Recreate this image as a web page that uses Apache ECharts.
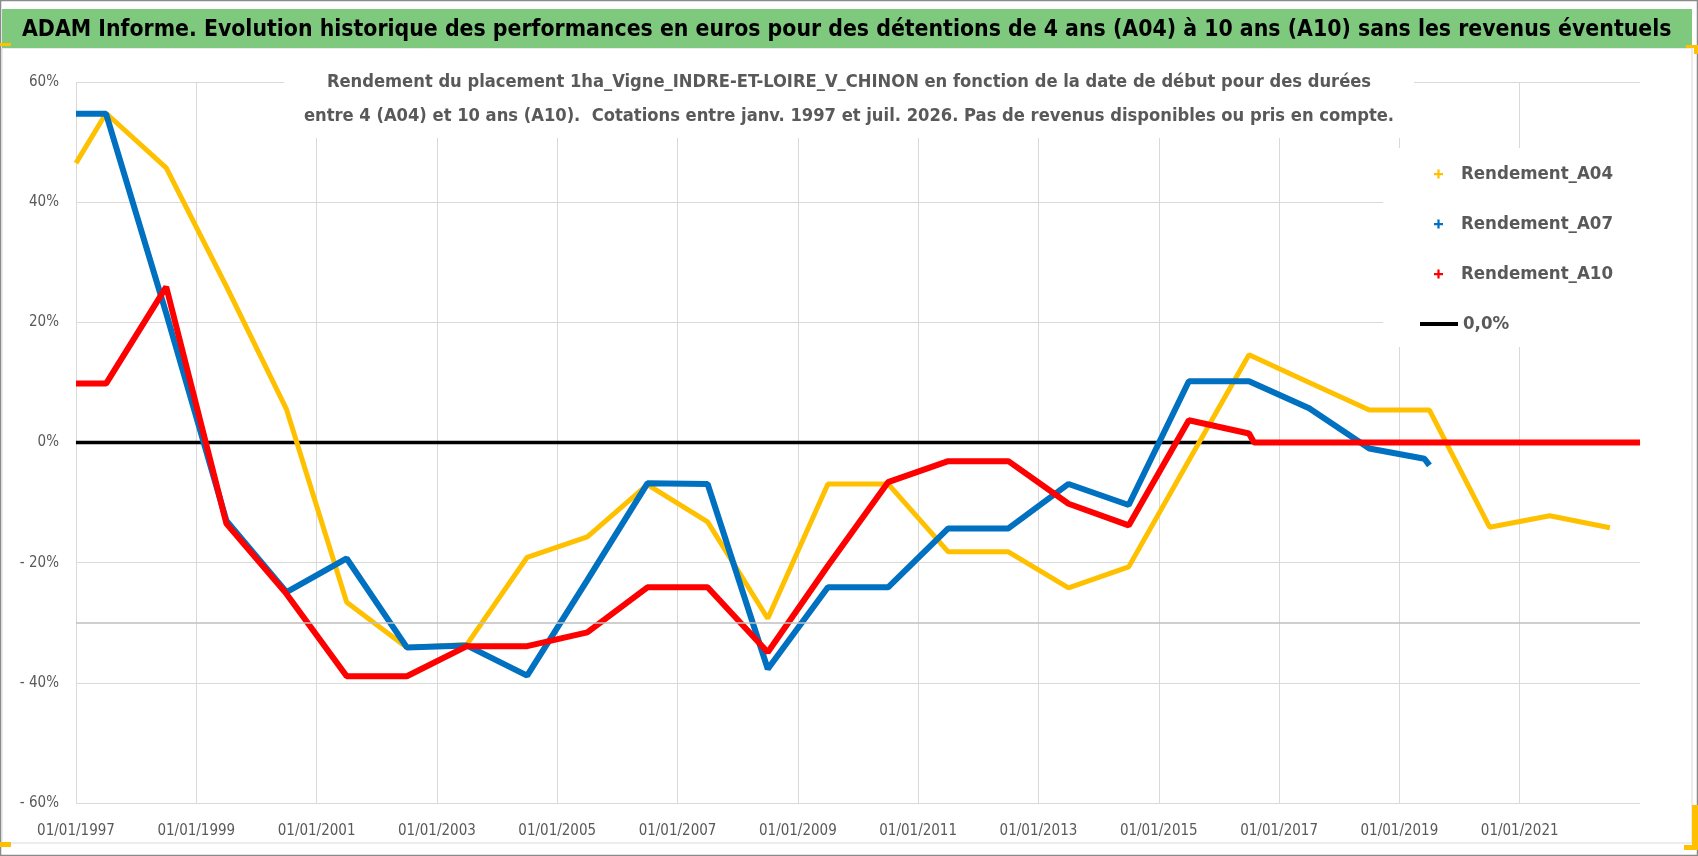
<!DOCTYPE html>
<html><head><meta charset="utf-8">
<script src="https://cdn.jsdelivr.net/npm/echarts@6/dist/echarts.min.js"></script>
<style>html,body{margin:0;padding:0;background:#fff}#c{width:1698px;height:856px}</style>
</head><body><div id="c"></div>
<script>
const titleText = 'ADAM Informe. Evolution historique des performances en euros pour des détentions de 4 ans (A04) à 10 ans (A10) sans les revenus éventuels';
const subtitleLines = [
  'Rendement du placement 1ha_Vigne_INDRE-ET-LOIRE_V_CHINON en fonction de la date de début pour des durées',
  'entre 4 (A04) et 10 ans (A10).  Cotations entre janv. 1997 et juil. 2026. Pas de revenus disponibles ou pris en compte.'
];
const seriesNames = ['Rendement_A04', 'Rendement_A07', 'Rendement_A10', '0,0%'];

const a04Dates = ['1997-01','1997-07','1998-07','1999-07','2000-07','2001-07','2002-07','2003-07','2004-07','2005-07','2006-07','2007-07','2008-07','2009-07','2010-07','2011-07','2012-07','2013-07','2014-07','2015-07','2016-07','2017-07','2018-07','2019-07','2020-07','2021-07','2022-07'];
const a04Values = [46.5, 54.8, 45.7, 26.0, 5.5, -26.6, -34.1, -33.6, -19.1, -15.7, -7.0, -13.2, -29.3, -6.9, -6.9, -18.2, -18.2, -24.2, -20.7, -3.0, 14.6, 10.0, 5.4, 5.4, -14.1, -12.2, -14.2];

const a07Dates = ['1997-01','1997-07','1998-07','1999-07','2000-07','2001-07','2002-07','2003-07','2004-07','2005-07','2006-07','2007-07','2008-07','2009-07','2010-07','2011-07','2012-07','2013-07','2014-07','2015-07','2016-07','2017-07','2018-07','2019-06','2019-07'];
const a07Values = [54.7, 54.7, 21.5, -13.0, -24.9, -19.3, -34.1, -33.8, -38.8, -22.9, -6.8, -6.9, -37.7, -24.1, -24.1, -14.3, -14.3, -6.9, -10.4, 10.2, 10.2, 5.7, -1.0, -2.7, -3.8];

const a10Dates = ['1997-01','1997-07','1998-07','1999-07','2000-07','2001-07','2002-07','2003-07','2004-07','2005-07','2006-07','2007-07','2008-07','2009-07','2010-07','2011-07','2012-07','2013-07','2014-07','2015-07','2016-07','2016-08','2023-01'];
const a10Values = [9.8, 9.8, 25.9, -13.5, -25.2, -38.9, -38.9, -33.9, -33.9, -31.6, -24.1, -24.1, -34.9, -20.5, -6.6, -3.1, -3.1, -10.2, -13.8, 3.7, 1.5, 0, 0];

const zeroDates = ['1997-01', '2023-01'];
const zeroValues = [0, 0];
const refLineValues = [-30];

const xBaseYear = 1997;
const xRangeYears = [1997, 2023];
const xTickStepYears = 2;
const yTicks = [-60, -40, -20, 0, 20, 40, 60];

const FONT = '"Liberation Sans Narrow", "DejaVu Sans Condensed", "Open Sans", sans-serif';
const toX = s => { const p = s.split('-').map(Number); return (p[0] - xBaseYear) + (p[1] - 1) / 12; };
const pairs = (d, v) => d.map((s, i) => [toX(s), v[i]]);

const chart = echarts.init(document.getElementById('c'), null, {renderer: 'canvas'});
const labelStyle = {color: '#595959', fontSize: 15, fontFamily: FONT};
const legendText = {fontSize: 18.5, fontWeight: 'bold', color: '#595959', fontFamily: FONT, lineHeight: 24};

chart.setOption({
  animation: false,
  backgroundColor: '#fff',
  title: [
    {text: titleText, left: 17, top: 14, textStyle: {fontSize: 22.8, fontWeight: 'bold', color: '#000', fontFamily: FONT}},
    {text: subtitleLines.join('\n'), left: 'center', top: 60, backgroundColor: '#fff', padding: [5, 20, 5, 20],
     textStyle: {fontSize: 18.2, fontWeight: 'bold', color: '#595959', lineHeight: 34, fontFamily: FONT}}
  ],
  grid: {left: 76, right: 58, top: 82, bottom: 53, containLabel: false},
  legend: [
    {data: seriesNames.slice(0, 3), orient: 'vertical', left: 1429, top: 157, itemWidth: 9, itemHeight: 9, itemGap: 26,
     icon: 'path://M3,0h2v3h3v2h-3v3h-2v-3h-3v-2h3z', itemStyle: {borderWidth: 0},
     textStyle: Object.assign({padding: [0, 0, 0, 13]}, legendText), z: 5},
    {data: [seriesNames[3]], orient: 'vertical', left: 1415, top: 307, itemWidth: 38, itemHeight: 4, icon: 'rect',
     itemStyle: {borderWidth: 0}, textStyle: legendText, z: 5}
  ],
  xAxis: {
    type: 'value', min: xRangeYears[0] - xBaseYear, max: xRangeYears[1] - xBaseYear, interval: xTickStepYears,
    axisLabel: Object.assign({formatter: v => '01/01/' + (v + xBaseYear), showMaxLabel: false, margin: 21}, labelStyle),
    splitLine: {show: true, showMaxLine: false, lineStyle: {color: '#d9d9d9', width: 1}},
    axisLine: {show: true, lineStyle: {color: '#d9d9d9', width: 1.5}},
    axisTick: {show: false}
  },
  yAxis: {
    type: 'value', min: yTicks[0], max: yTicks[yTicks.length - 1], interval: yTicks[1] - yTicks[0],
    axisLabel: Object.assign({formatter: v => v < 0 ? '- ' + (-v) + '%' : v + '%', margin: 17}, labelStyle),
    splitLine: {show: true, lineStyle: {color: '#d9d9d9', width: 1}},
    axisLine: {show: false}, axisTick: {show: false}
  },
  graphic: [
    {type: 'rect', shape: {x: 0.5, y: 0.5, width: 1697, height: 855}, style: {fill: 'none', stroke: '#8a8a8a', lineWidth: 1.5}, z: 0, silent: true},
    {type: 'rect', shape: {x: 2, y: 48, width: 1690, height: 795}, style: {fill: 'none', stroke: '#d9d9d9', lineWidth: 1}, z: 0, silent: true},
    {type: 'rect', shape: {x: 2, y: 9, width: 1690, height: 39}, style: {fill: '#7fc97f'}, z: 0, silent: true},
    {type: 'rect', shape: {x: 1383, y: 148, width: 257, height: 199}, style: {fill: '#fff'}, z: 1, silent: true},
    {type: 'rect', shape: {x: 0, y: 842, width: 11, height: 5}, style: {fill: '#ffc000'}, z: 3, silent: true},
    {type: 'rect', shape: {x: 0, y: 43, width: 11, height: 3}, style: {fill: '#ffc000'}, z: 3, silent: true},
    {type: 'rect', shape: {x: 1692, y: 805, width: 6, height: 45}, style: {fill: '#ffc000'}, z: 3, silent: true},
    {type: 'rect', shape: {x: 1684, y: 845, width: 14, height: 5}, style: {fill: '#ffc000'}, z: 3, silent: true},
    {type: 'rect', shape: {x: 1686, y: 45, width: 12, height: 3}, style: {fill: '#ffc000'}, z: 3, silent: true},
    {type: 'rect', shape: {x: 1694, y: 45, width: 4, height: 9}, style: {fill: '#ffc000'}, z: 3, silent: true}
  ],
  series: [
    {name: seriesNames[3], type: 'line', data: pairs(zeroDates, zeroValues), showSymbol: false, silent: true,
     lineStyle: {color: '#000', width: 3.5}, itemStyle: {color: '#000'},
     markLine: {silent: true, symbol: ['none', 'none'], label: {show: false},
       lineStyle: {color: '#bfbfbf', width: 1.5, type: 'solid'}, data: refLineValues.map(v => ({yAxis: v}))}},
    {name: seriesNames[0], type: 'line', data: pairs(a04Dates, a04Values), showSymbol: false,
     lineStyle: {color: '#ffc000', width: 5}, itemStyle: {color: '#ffc000'}},
    {name: seriesNames[1], type: 'line', data: pairs(a07Dates, a07Values), showSymbol: false,
     lineStyle: {color: '#0070c0', width: 6}, itemStyle: {color: '#0070c0'}},
    {name: seriesNames[2], type: 'line', data: pairs(a10Dates, a10Values), showSymbol: false,
     lineStyle: {color: '#ff0000', width: 6}, itemStyle: {color: '#ff0000'}}
  ]
});
</script></body></html>
